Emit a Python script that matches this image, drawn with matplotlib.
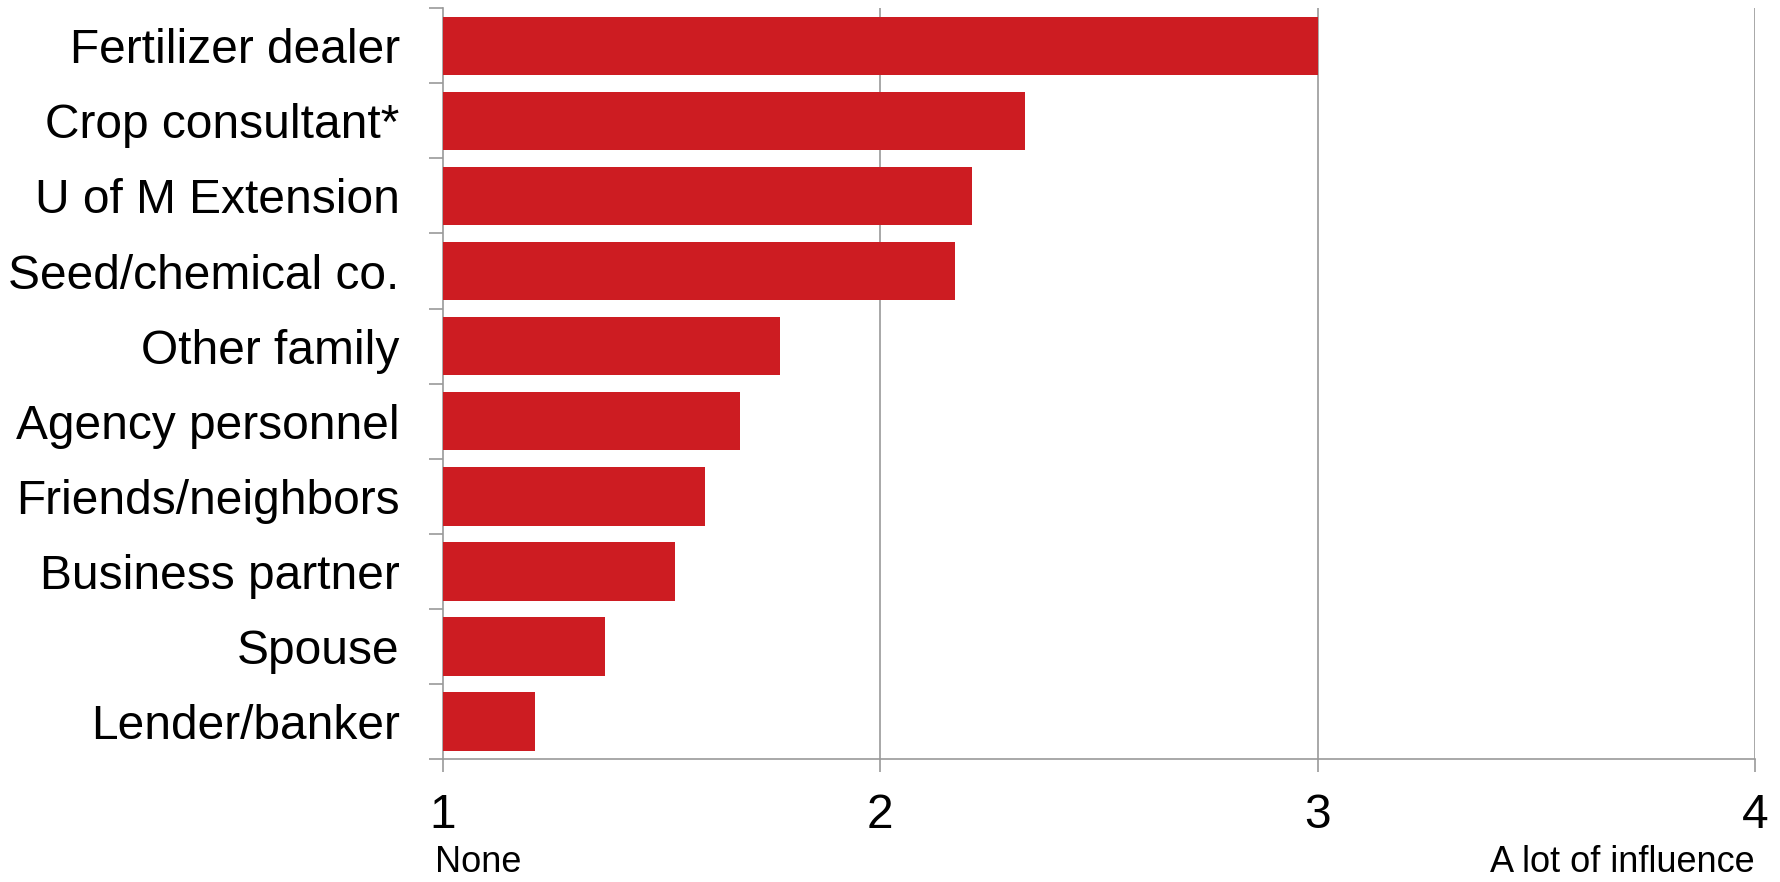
import matplotlib
matplotlib.use("Agg")
import matplotlib.pyplot as plt
import numpy as np

# Sources of influence and their mean ratings (1 = none, 4 = a lot)
sources = [
    "Fertilizer dealer",
    "Crop consultant*",
    "U of M Extension",
    "Seed/chemical co.",
    "Other family",
    "Agency personnel",
    "Friends/neighbors",
    "Business partner",
    "Spouse",
    "Lender/banker",
]
ratings = [3.00, 2.33, 2.21, 2.17, 1.77, 1.68, 1.60, 1.53, 1.37, 1.21]
scale_ticks = [1, 2, 3, 4]
scale_ends = ["None", "A lot of influence"]

plt.rcParams["font.family"] = ["Liberation Sans", "DejaVu Sans"]

BAR = "#CD1C22"
GRID = "#999999"

fig = plt.figure(figsize=(17.81, 8.82), dpi=100)
ax = fig.add_axes([0.2486, 0.1395, 0.9854 - 0.2486, 0.9906 - 0.1395])

n = len(sources)
ypos = np.arange(n)
ax.barh(ypos, [r - 1 for r in ratings], left=1, height=0.78, color=BAR,
        edgecolor="none", zorder=3)

ax.set_xlim(1, 4)
ax.set_ylim(n - 0.5, -0.5)

# x axis
ax.set_xticks(scale_ticks)
ax.set_xticklabels([str(t) for t in scale_ticks], fontsize=34.5)
ax.tick_params(axis="x", direction="out", length=9.5, width=1.2, color=GRID,
               pad=15)
for t in scale_ticks[1:]:
    ax.axvline(t, color=GRID, lw=1.2, zorder=1)

# y axis: ticks between categories, labels centred on bars
ax.set_yticks(np.arange(-0.5, n, 1.0))
ax.set_yticklabels([])
ax.tick_params(axis="y", which="major", direction="out", length=10, width=1.2,
               color=GRID)
ax.set_yticks(ypos, minor=True)
ax.set_yticklabels(sources, minor=True, fontsize=34.5)
ax.tick_params(axis="y", which="minor", length=0, pad=31)

for side in ("top", "right"):
    ax.spines[side].set_visible(False)
for side in ("left", "bottom"):
    ax.spines[side].set_color(GRID)
    ax.spines[side].set_linewidth(1.2)

# scale end descriptions
ax.text(-0.006, -0.150, scale_ends[0], transform=ax.transAxes, fontsize=26,
        ha="left", va="baseline")
ax.text(1.0, -0.150, scale_ends[1], transform=ax.transAxes, fontsize=26,
        ha="right", va="baseline")

fig.savefig("out.png", dpi=100)
